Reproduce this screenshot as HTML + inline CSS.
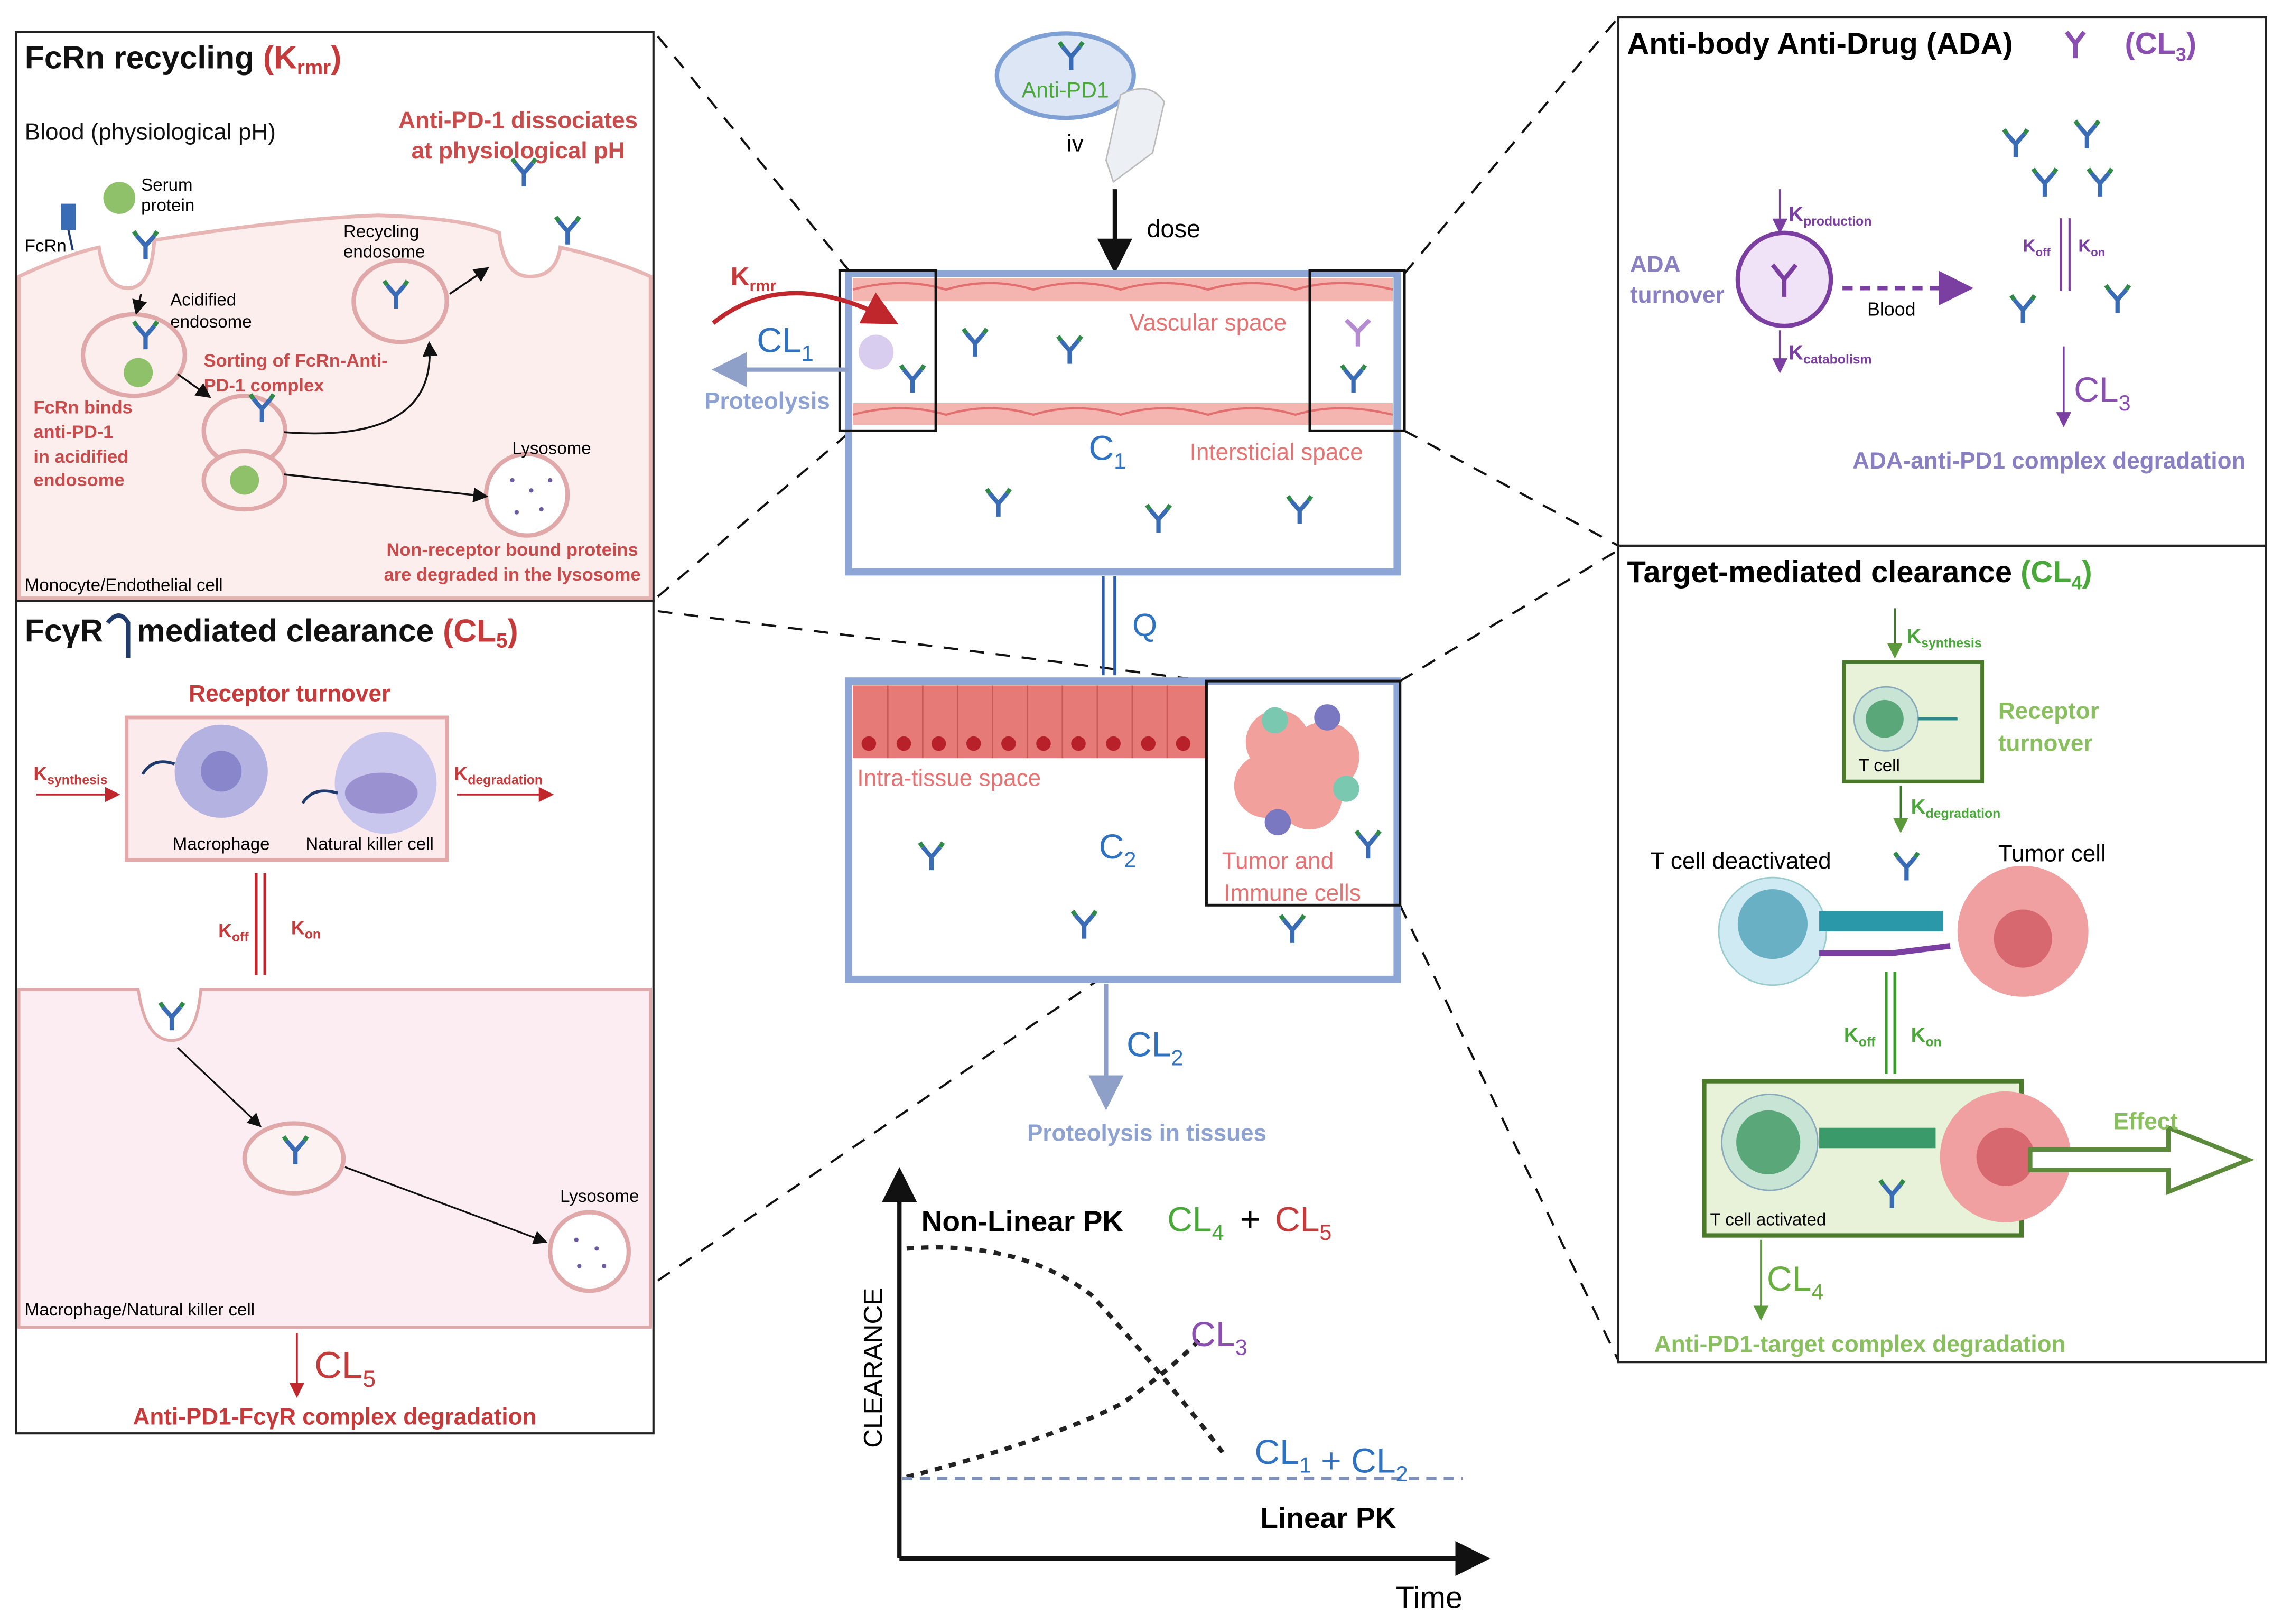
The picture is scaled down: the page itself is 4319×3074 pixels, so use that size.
<!DOCTYPE html>
<html><head><meta charset="utf-8"><style>
html,body{margin:0;padding:0;background:#fff}
svg{display:block}
text{font-family:"Liberation Sans",sans-serif}
</style></head><body>
<svg width="4319" height="3074" viewBox="0 0 1568 1116" preserveAspectRatio="none" xmlns="http://www.w3.org/2000/svg">
<defs>
<g id="ab">
<path d="M0 0 L0 -9 M0 -9 L-6 -16 M0 -9 L6 -16" stroke="#3a6bb5" stroke-width="3" fill="none"/>
<path d="M-6 -16 L-8 -19 M6 -16 L8 -19" stroke="#2f8a4a" stroke-width="3"/>
</g>
<marker id="ak" markerWidth="8" markerHeight="8" refX="6" refY="4" orient="auto"><path d="M0 0 L8 4 L0 8z" fill="#111"/></marker>
<marker id="ar" markerWidth="8" markerHeight="8" refX="6" refY="4" orient="auto"><path d="M0 0 L8 4 L0 8z" fill="#c0272d"/></marker>
<marker id="ap" markerWidth="8" markerHeight="8" refX="6" refY="4" orient="auto"><path d="M0 0 L8 4 L0 8z" fill="#7a3fa0"/></marker>
<marker id="ag" markerWidth="8" markerHeight="8" refX="6" refY="4" orient="auto"><path d="M0 0 L8 4 L0 8z" fill="#5a9a3a"/></marker>
<marker id="ab2" markerWidth="8" markerHeight="8" refX="6" refY="4" orient="auto"><path d="M0 0 L8 4 L0 8z" fill="#8fa0c8"/></marker>
</defs>

<!-- dashed connectors -->
<g stroke="#111" stroke-width="1.5" stroke-dasharray="10,8" fill="none">
<line x1="452" y1="25" x2="585" y2="188"/>
<line x1="452" y1="410" x2="585" y2="296"/>
<line x1="452" y1="420" x2="830" y2="468"/>
<line x1="452" y1="880" x2="830" y2="622"/>
<line x1="965" y1="188" x2="1112" y2="12"/>
<line x1="965" y1="296" x2="1112" y2="375"/>
<line x1="962" y1="468" x2="1112" y2="378"/>
<line x1="962" y1="622" x2="1112" y2="935"/>
</g>

<!-- LEFT TOP PANEL -->
<rect x="11" y="22" width="438" height="391" fill="#fff" stroke="#222" stroke-width="1.5"/>
<path d="M13 190 Q45 175 68 170 Q72 198 88 198 Q104 198 106 165 Q200 150 260 148 Q320 150 343 160 Q346 190 364 190 Q382 190 385 170 Q420 178 447 190 L447 411 L13 411Z" fill="#fdeeee" stroke="#e8b5b5" stroke-width="2.5"/>
<text x="17" y="47" font-size="22" font-weight="bold" fill="#111">FcRn recycling <tspan fill="#c53a3a">(K<tspan font-size="14" dy="4">rmr</tspan><tspan dy="-4">)</tspan></tspan></text>
<text x="17" y="96" font-size="16" fill="#111">Blood (physiological pH)</text>
<text x="356" y="88" font-size="16" font-weight="bold" fill="#c94c4c" text-anchor="middle">Anti-PD-1 dissociates</text>
<text x="356" y="109" font-size="16" font-weight="bold" fill="#c94c4c" text-anchor="middle">at physiological pH</text>
<circle cx="82" cy="136" r="11" fill="#8fc06a"/>
<text x="97" y="131" font-size="12">Serum</text><text x="97" y="145" font-size="12">protein</text>
<text x="17" y="173" font-size="12">FcRn</text>
<rect x="42" y="140" width="10" height="18" fill="#3a6bb5"/>
<line x1="47" y1="158" x2="50" y2="172" stroke="#1f3a6b" stroke-width="1.5"/>
<text x="236" y="163" font-size="12">Recycling</text><text x="236" y="177" font-size="12">endosome</text>
<text x="117" y="210" font-size="12">Acidified</text><text x="117" y="225" font-size="12">endosome</text>
<ellipse cx="92" cy="244" rx="35" ry="28" fill="#fdeeee" stroke="#e0a8a8" stroke-width="3"/>
<ellipse cx="275" cy="207" rx="32" ry="28" fill="#fdeeee" stroke="#e0a8a8" stroke-width="3"/>
<ellipse cx="168" cy="296" rx="28" ry="24" fill="#fdeeee" stroke="#e0a8a8" stroke-width="3"/>
<ellipse cx="168" cy="330" rx="28" ry="20" fill="#fdeeee" stroke="#e0a8a8" stroke-width="3"/>
<circle cx="95" cy="256" r="10" fill="#8fc06a"/><circle cx="168" cy="330" r="10" fill="#8fc06a"/>
<circle cx="362" cy="340" r="28" fill="#fff" stroke="#e0a8a8" stroke-width="3"/>
<g fill="#6a5aa0"><circle cx="352" cy="330" r="1.5"/><circle cx="365" cy="337" r="1.5"/><circle cx="372" cy="350" r="1.5"/><circle cx="355" cy="352" r="1.5"/><circle cx="378" cy="330" r="1.5"/></g>
<text x="140" y="252" font-size="12.5" font-weight="bold" fill="#c94c4c">Sorting of FcRn-Anti-</text>
<text x="140" y="269" font-size="12.5" font-weight="bold" fill="#c94c4c">PD-1 complex</text>
<text x="23" y="284" font-size="12.5" font-weight="bold" fill="#c94c4c">FcRn binds</text>
<text x="23" y="301" font-size="12.5" font-weight="bold" fill="#c94c4c">anti-PD-1</text>
<text x="23" y="318" font-size="12.5" font-weight="bold" fill="#c94c4c">in acidified</text>
<text x="23" y="334" font-size="12.5" font-weight="bold" fill="#c94c4c">endosome</text>
<text x="379" y="312" font-size="12" text-anchor="middle">Lysosome</text>
<text x="352" y="382" font-size="12.5" font-weight="bold" fill="#c94c4c" text-anchor="middle">Non-receptor bound proteins</text>
<text x="352" y="399" font-size="12.5" font-weight="bold" fill="#c94c4c" text-anchor="middle">are degraded in the lysosome</text>
<text x="17" y="406" font-size="12">Monocyte/Endothelial cell</text>
<g fill="none" stroke="#111" stroke-width="1.3">
<line x1="97" y1="202" x2="94" y2="214" marker-end="url(#ak)"/>
<line x1="122" y1="257" x2="143" y2="272" marker-end="url(#ak)"/>
<path d="M195 297 Q300 305 295 237" marker-end="url(#ak)"/>
<line x1="309" y1="202" x2="334" y2="185" marker-end="url(#ak)"/>
<line x1="195" y1="326" x2="333" y2="341" marker-end="url(#ak)"/>
</g>
<use href="#ab" x="100" y="178"/><use href="#ab" x="360" y="128"/><use href="#ab" x="390" y="168"/>
<use href="#ab" x="272" y="212"/><use href="#ab" x="180" y="290"/><use href="#ab" x="100" y="240"/>

<!-- LEFT BOTTOM PANEL -->
<rect x="11" y="413" width="438" height="572" fill="#fff" stroke="#222" stroke-width="1.5"/>
<path d="M13 680 L95 680 Q100 715 118 715 Q135 715 138 680 L447 680 L447 912 L13 912Z" fill="#fcedf2" stroke="#e0a8a8" stroke-width="2"/>
<text x="17" y="441" font-size="22" font-weight="bold" fill="#111">FcγR</text>
<text x="94" y="441" font-size="22" font-weight="bold" fill="#111">mediated clearance <tspan fill="#c53a3a">(CL<tspan font-size="14" dy="4">5</tspan><tspan dy="-4">)</tspan></tspan></text>
<path d="M74 428 Q82 418 88 428 L88 452" stroke="#1f3a6b" stroke-width="3" fill="none"/>
<text x="199" y="482" font-size="16" font-weight="bold" fill="#c53a3a" text-anchor="middle">Receptor turnover</text>
<rect x="87" y="493" width="220" height="98" fill="#fcebed" stroke="#e4a8a8" stroke-width="2.5"/>
<circle cx="152" cy="530" r="32" fill="#b4b2e0"/><circle cx="152" cy="530" r="14" fill="#8a86cc"/>
<circle cx="265" cy="538" r="35" fill="#c8c6ec"/><ellipse cx="262" cy="545" rx="25" ry="14" fill="#9a92d0"/>
<path d="M120 525 Q105 520 98 532" stroke="#1f3a6b" stroke-width="2" fill="none"/>
<path d="M232 545 Q215 540 208 552" stroke="#1f3a6b" stroke-width="2" fill="none"/>
<text x="152" y="584" font-size="12" text-anchor="middle">Macrophage</text>
<text x="254" y="584" font-size="12" text-anchor="middle">Natural killer cell</text>
<text x="23" y="536" font-size="13" font-weight="bold" fill="#c53a3a">K<tspan font-size="9" dy="3">synthesis</tspan></text>
<line x1="25" y1="546" x2="80" y2="546" stroke="#c0272d" stroke-width="1.3" marker-end="url(#ar)"/>
<text x="312" y="536" font-size="13" font-weight="bold" fill="#c53a3a">K<tspan font-size="9" dy="3">degradation</tspan></text>
<line x1="314" y1="546" x2="378" y2="546" stroke="#c0272d" stroke-width="1.3" marker-end="url(#ar)"/>
<line x1="176" y1="600" x2="176" y2="670" stroke="#c0272d" stroke-width="2"/>
<line x1="182" y1="600" x2="182" y2="670" stroke="#c0272d" stroke-width="2"/>
<text x="150" y="644" font-size="13" font-weight="bold" fill="#c53a3a">K<tspan font-size="9" dy="3">off</tspan></text>
<text x="200" y="642" font-size="13" font-weight="bold" fill="#c53a3a">K<tspan font-size="9" dy="3">on</tspan></text>
<use href="#ab" x="118" y="708"/>
<ellipse cx="202" cy="796" rx="34" ry="24" fill="#fdf2f2" stroke="#e0a8a8" stroke-width="3"/>
<use href="#ab" x="203" y="800"/>
<circle cx="405" cy="860" r="27" fill="#fff" stroke="#e0a8a8" stroke-width="3"/>
<g fill="#6a5aa0"><circle cx="396" cy="852" r="1.5"/><circle cx="410" cy="858" r="1.5"/><circle cx="415" cy="870" r="1.5"/><circle cx="398" cy="870" r="1.5"/></g>
<text x="412" y="826" font-size="12" text-anchor="middle">Lysosome</text>
<line x1="122" y1="720" x2="178" y2="773" stroke="#111" stroke-width="1.2" marker-end="url(#ak)"/>
<line x1="237" y1="802" x2="374" y2="853" stroke="#111" stroke-width="1.2" marker-end="url(#ak)"/>
<text x="17" y="904" font-size="12">Macrophage/Natural killer cell</text>
<line x1="204" y1="916" x2="204" y2="958" stroke="#c0272d" stroke-width="1.3" marker-end="url(#ar)"/>
<text x="216" y="947" font-size="26" fill="#c53a3a">CL<tspan font-size="16" dy="6">5</tspan></text>
<text x="230" y="979" font-size="16" font-weight="bold" fill="#c53a3a" text-anchor="middle">Anti-PD1-FcγR complex degradation</text>

<!-- CENTER -->
<ellipse cx="732" cy="52" rx="47" ry="29" fill="#dce6f5" stroke="#7fa0d5" stroke-width="3"/>
<use href="#ab" x="736" y="48"/>
<text x="732" y="67" font-size="15" fill="#4aa83a" text-anchor="middle">Anti-PD1</text>
<path d="M770 65 Q790 55 800 70 L792 105 L765 125 L760 110Z" fill="#eceff3" stroke="#bbb"/>
<text x="733" y="104" font-size="16">iv</text>
<line x1="766" y1="130" x2="766" y2="182" stroke="#111" stroke-width="3" marker-end="url(#ak)"/>
<text x="788" y="163" font-size="17">dose</text>
<rect x="583" y="188" width="377" height="205" fill="#fff" stroke="#8ea6d6" stroke-width="5"/>
<rect x="586" y="191" width="371" height="16" fill="#f4b5b0"/>
<rect x="586" y="277" width="371" height="15" fill="#f4b5b0"/>
<path d="M586 199 Q620 190 650 199 Q680 190 710 199 Q740 190 770 199 Q800 190 830 199 Q860 190 890 199 Q920 190 957 199" stroke="#e26f6f" stroke-width="1.5" fill="none"/>
<path d="M586 285 Q620 276 650 285 Q680 276 710 285 Q740 276 770 285 Q800 276 830 285 Q860 276 890 285 Q920 276 957 285" stroke="#e26f6f" stroke-width="1.5" fill="none"/>
<text x="830" y="227" font-size="16" fill="#e57373" text-anchor="middle">Vascular space</text>
<text x="877" y="316" font-size="16" fill="#e57373" text-anchor="middle">Intersticial space</text>
<text x="748" y="316" font-size="24" fill="#2f72c0">C<tspan font-size="15" dy="6">1</tspan></text>
<rect x="577" y="186" width="66" height="110" fill="none" stroke="#111" stroke-width="1.8"/>
<rect x="900" y="186" width="65" height="110" fill="none" stroke="#111" stroke-width="1.8"/>
<circle cx="602" cy="242" r="12" fill="#d9cdef"/>
<use href="#ab" x="627" y="270"/><use href="#ab" x="670" y="245"/><use href="#ab" x="735" y="250"/>
<use href="#ab" x="930" y="270"/><use href="#ab" x="686" y="355"/><use href="#ab" x="796" y="366"/><use href="#ab" x="893" y="360"/>
<path d="M925 220 L933 228 L941 220 M933 228 L933 238" stroke="#b58cd2" stroke-width="3" fill="none"/>
<path d="M490 222 Q540 182 612 220" stroke="#c0272d" stroke-width="3" fill="none" marker-end="url(#ar)"/>
<text x="502" y="196" font-size="18" font-weight="bold" fill="#c53a3a">K<tspan font-size="11" dy="4">rmr</tspan></text>
<line x1="583" y1="254" x2="495" y2="254" stroke="#8fa0c8" stroke-width="3" marker-end="url(#ab2)"/>
<text x="520" y="242" font-size="24" fill="#2f72c0">CL<tspan font-size="15" dy="6">1</tspan></text>
<text x="484" y="281" font-size="16" font-weight="bold" fill="#8ea2d2">Proteolysis</text>
<line x1="758" y1="396" x2="758" y2="464" stroke="#2a5db0" stroke-width="2"/>
<line x1="766" y1="396" x2="766" y2="464" stroke="#2a5db0" stroke-width="2"/>
<text x="778" y="437" font-size="22" fill="#2f72c0">Q</text>
<rect x="583" y="468" width="377" height="205" fill="#fff" stroke="#8ea6d6" stroke-width="5"/>
<rect x="586" y="471" width="242" height="50" fill="#e57a76"/>
<g stroke="#c95a56" stroke-width="1"><line x1="610" y1="471" x2="610" y2="521"/><line x1="634" y1="471" x2="634" y2="521"/><line x1="658" y1="471" x2="658" y2="521"/><line x1="682" y1="471" x2="682" y2="521"/><line x1="706" y1="471" x2="706" y2="521"/><line x1="730" y1="471" x2="730" y2="521"/><line x1="754" y1="471" x2="754" y2="521"/><line x1="778" y1="471" x2="778" y2="521"/><line x1="802" y1="471" x2="802" y2="521"/></g>
<g fill="#b8202a"><circle cx="597" cy="511" r="5"/><circle cx="621" cy="511" r="5"/><circle cx="645" cy="511" r="5"/><circle cx="669" cy="511" r="5"/><circle cx="693" cy="511" r="5"/><circle cx="717" cy="511" r="5"/><circle cx="741" cy="511" r="5"/><circle cx="765" cy="511" r="5"/><circle cx="789" cy="511" r="5"/><circle cx="813" cy="511" r="5"/></g>
<text x="589" y="540" font-size="16" fill="#e57373">Intra-tissue space</text>
<text x="755" y="590" font-size="24" fill="#2f72c0">C<tspan font-size="15" dy="6">2</tspan></text>
<rect x="829" y="468" width="133" height="154" fill="none" stroke="#111" stroke-width="1.8"/>
<g fill="#f2a09c"><circle cx="878" cy="510" r="22"/><circle cx="910" cy="520" r="24"/><circle cx="870" cy="540" r="22"/><circle cx="900" cy="548" r="22"/></g>
<circle cx="876" cy="495" r="9" fill="#7bc8b0"/><circle cx="925" cy="542" r="9" fill="#7bc8b0"/><circle cx="912" cy="493" r="9" fill="#7a78c0"/><circle cx="878" cy="565" r="9" fill="#7a78c0"/>
<text x="878" y="597" font-size="16" fill="#e57373" text-anchor="middle">Tumor and</text>
<text x="888" y="619" font-size="16" fill="#e57373" text-anchor="middle">Immune cells</text>
<use href="#ab" x="640" y="598"/><use href="#ab" x="745" y="645"/><use href="#ab" x="888" y="648"/><use href="#ab" x="940" y="590"/>
<line x1="760" y1="676" x2="760" y2="757" stroke="#8fa0c8" stroke-width="3" marker-end="url(#ab2)"/>
<text x="774" y="726" font-size="24" fill="#2f72c0">CL<tspan font-size="15" dy="6">2</tspan></text>
<text x="788" y="784" font-size="16" font-weight="bold" fill="#8ea2d2" text-anchor="middle">Proteolysis in tissues</text>

<!-- GRAPH -->
<line x1="618" y1="1071" x2="618" y2="808" stroke="#111" stroke-width="3" marker-end="url(#ak)"/>
<line x1="618" y1="1071" x2="1018" y2="1071" stroke="#111" stroke-width="3" marker-end="url(#ak)"/>
<text x="606" y="940" font-size="18" transform="rotate(-90 606 940)" text-anchor="middle">CLEARANCE</text>
<text x="982" y="1105" font-size="21" text-anchor="middle">Time</text>
<text x="633" y="846" font-size="20" font-weight="bold">Non-Linear PK</text>
<text x="802" y="846" font-size="24" fill="#4aa83a">CL<tspan font-size="15" dy="6">4</tspan></text>
<text x="852" y="846" font-size="24">+</text>
<text x="876" y="846" font-size="24" fill="#c53a3a">CL<tspan font-size="15" dy="6">5</tspan></text>
<path d="M623 858 Q700 852 750 890 Q800 945 840 998" stroke="#222" stroke-width="3" stroke-dasharray="5,5" fill="none"/>
<path d="M623 1015 Q720 990 770 965 Q800 945 825 920" stroke="#222" stroke-width="3" stroke-dasharray="5,5" fill="none"/>
<text x="818" y="925" font-size="24" fill="#8a4fb0">CL<tspan font-size="15" dy="6">3</tspan></text>
<line x1="620" y1="1016" x2="1005" y2="1016" stroke="#8090b8" stroke-width="2.5" stroke-dasharray="7,5"/>
<text x="862" y="1006" font-size="24" fill="#2f72c0">CL<tspan font-size="15" dy="6">1</tspan> + CL<tspan font-size="15" dy="6">2</tspan></text>
<text x="866" y="1050" font-size="20" font-weight="bold">Linear PK</text>

<!-- RIGHT TOP -->
<rect x="1112" y="12" width="445" height="363" fill="#fff" stroke="#222" stroke-width="1.5"/>
<text x="1118" y="37" font-size="21" font-weight="bold">Anti-body Anti-Drug (ADA)</text>
<path d="M1420 22 L1426 30 L1432 22 M1426 30 L1426 40" stroke="#8a4fb0" stroke-width="3" fill="none"/>
<text x="1460" y="37" font-size="21" font-weight="bold" fill="#8a4fb0">(CL<tspan font-size="13" dy="5">3</tspan><tspan dy="-5">)</tspan></text>
<circle cx="1226" cy="192" r="32" fill="#f1e3f7" stroke="#7a3fa0" stroke-width="3"/>
<path d="M1218 182 L1226 192 L1234 182 M1226 192 L1226 204" stroke="#7a3fa0" stroke-width="3" fill="none"/>
<text x="1120" y="187" font-size="16" font-weight="bold" fill="#8a7fc0">ADA</text>
<text x="1120" y="208" font-size="16" font-weight="bold" fill="#8a7fc0">turnover</text>
<line x1="1223" y1="130" x2="1223" y2="158" stroke="#7a3fa0" stroke-width="1.3" marker-end="url(#ap)"/>
<text x="1229" y="152" font-size="14" font-weight="bold" fill="#7a3fa0">K<tspan font-size="9" dy="3">production</tspan></text>
<line x1="1223" y1="227" x2="1223" y2="254" stroke="#7a3fa0" stroke-width="1.3" marker-end="url(#ap)"/>
<text x="1229" y="247" font-size="14" font-weight="bold" fill="#7a3fa0">K<tspan font-size="9" dy="3">catabolism</tspan></text>
<line x1="1266" y1="198" x2="1350" y2="198" stroke="#7a3fa0" stroke-width="3" stroke-dasharray="7,5" marker-end="url(#ap)"/>
<text x="1283" y="217" font-size="13">Blood</text>
<use href="#ab" x="1385" y="108"/><use href="#ab" x="1434" y="102"/><use href="#ab" x="1405" y="135"/><use href="#ab" x="1443" y="135"/>
<use href="#ab" x="1390" y="222"/><use href="#ab" x="1455" y="215"/>
<line x1="1416" y1="150" x2="1416" y2="200" stroke="#7a3fa0" stroke-width="1.5"/>
<line x1="1422" y1="150" x2="1422" y2="200" stroke="#7a3fa0" stroke-width="1.5"/>
<text x="1390" y="173" font-size="12" font-weight="bold" fill="#7a3fa0">K<tspan font-size="8" dy="3">off</tspan></text>
<text x="1428" y="173" font-size="12" font-weight="bold" fill="#7a3fa0">K<tspan font-size="8" dy="3">on</tspan></text>
<line x1="1418" y1="238" x2="1418" y2="291" stroke="#7a3fa0" stroke-width="1.3" marker-end="url(#ap)"/>
<text x="1425" y="276" font-size="24" fill="#8a4fb0">CL<tspan font-size="15" dy="6">3</tspan></text>
<text x="1408" y="322" font-size="16" font-weight="bold" fill="#8a7fc0" text-anchor="middle">ADA-anti-PD1 complex degradation</text>

<!-- RIGHT BOTTOM -->
<rect x="1112" y="375" width="445" height="561" fill="#fff" stroke="#222" stroke-width="1.5"/>
<text x="1118" y="400" font-size="21" font-weight="bold">Target-mediated clearance <tspan fill="#4aa83a">(CL<tspan font-size="13" dy="5">4</tspan><tspan dy="-5">)</tspan></tspan></text>
<line x1="1302" y1="418" x2="1302" y2="450" stroke="#3a7a2a" stroke-width="1.3" marker-end="url(#ag)"/>
<text x="1310" y="442" font-size="14" font-weight="bold" fill="#4aa83a">K<tspan font-size="9" dy="3">synthesis</tspan></text>
<rect x="1267" y="455" width="95" height="82" fill="#e8f2d8" stroke="#4a7a2a" stroke-width="2.5"/>
<circle cx="1296" cy="494" r="22" fill="#c8e4d4" stroke="#8ab"/><circle cx="1295" cy="494" r="13" fill="#5aa87a"/>
<line x1="1318" y1="494" x2="1345" y2="494" stroke="#2a8a8a" stroke-width="2"/>
<text x="1277" y="530" font-size="12">T cell</text>
<text x="1373" y="494" font-size="16" font-weight="bold" fill="#8abf60">Receptor</text>
<text x="1373" y="516" font-size="16" font-weight="bold" fill="#8abf60">turnover</text>
<line x1="1306" y1="540" x2="1306" y2="570" stroke="#3a7a2a" stroke-width="1.3" marker-end="url(#ag)"/>
<text x="1313" y="559" font-size="14" font-weight="bold" fill="#4aa83a">K<tspan font-size="9" dy="3">degradation</tspan></text>
<text x="1134" y="597" font-size="16">T cell deactivated</text>
<text x="1373" y="592" font-size="16">Tumor cell</text>
<use href="#ab" x="1310" y="605"/>
<circle cx="1218" cy="640" r="37" fill="#cfeaf2" stroke="#9cc"/><circle cx="1218" cy="635" r="24" fill="#6ab0c4"/>
<circle cx="1390" cy="640" r="45" fill="#f0a0a0"/><circle cx="1390" cy="645" r="20" fill="#d86870"/>
<rect x="1250" y="626" width="85" height="14" fill="#2a98a8"/>
<path d="M1250 655 L1300 655 L1340 650" stroke="#7a3fa0" stroke-width="4" fill="none"/>
<line x1="1296" y1="668" x2="1296" y2="738" stroke="#3a9a2a" stroke-width="2"/>
<line x1="1302" y1="668" x2="1302" y2="738" stroke="#3a9a2a" stroke-width="2"/>
<text x="1267" y="716" font-size="14" font-weight="bold" fill="#4aa83a">K<tspan font-size="9" dy="3">off</tspan></text>
<text x="1313" y="716" font-size="14" font-weight="bold" fill="#4aa83a">K<tspan font-size="9" dy="3">on</tspan></text>
<rect x="1171" y="743" width="218" height="106" fill="#e8f2d8" stroke="#4a7a2a" stroke-width="3"/>
<circle cx="1216" cy="785" r="33" fill="#c8e4d4" stroke="#8ab"/><circle cx="1215" cy="785" r="22" fill="#5aa87a"/>
<circle cx="1378" cy="795" r="45" fill="#f0a0a0"/><circle cx="1378" cy="795" r="20" fill="#d86870"/>
<rect x="1250" y="775" width="80" height="14" fill="#3a9a6a"/>
<use href="#ab" x="1300" y="830"/>
<text x="1175" y="842" font-size="12">T cell activated</text>
<path d="M1395 790 L1490 790 L1490 775 L1545 797 L1490 819 L1490 804 L1395 804Z" fill="#fff" stroke="#5a8a3a" stroke-width="3"/>
<text x="1452" y="776" font-size="16" font-weight="bold" fill="#8abf60">Effect</text>
<line x1="1210" y1="852" x2="1210" y2="905" stroke="#5a9a3a" stroke-width="1.3" marker-end="url(#ag)"/>
<text x="1214" y="887" font-size="24" fill="#6ab040">CL<tspan font-size="15" dy="6">4</tspan></text>
<text x="1278" y="929" font-size="16" font-weight="bold" fill="#8abf60" text-anchor="middle">Anti-PD1-target complex degradation</text>
</svg>
</body></html>
